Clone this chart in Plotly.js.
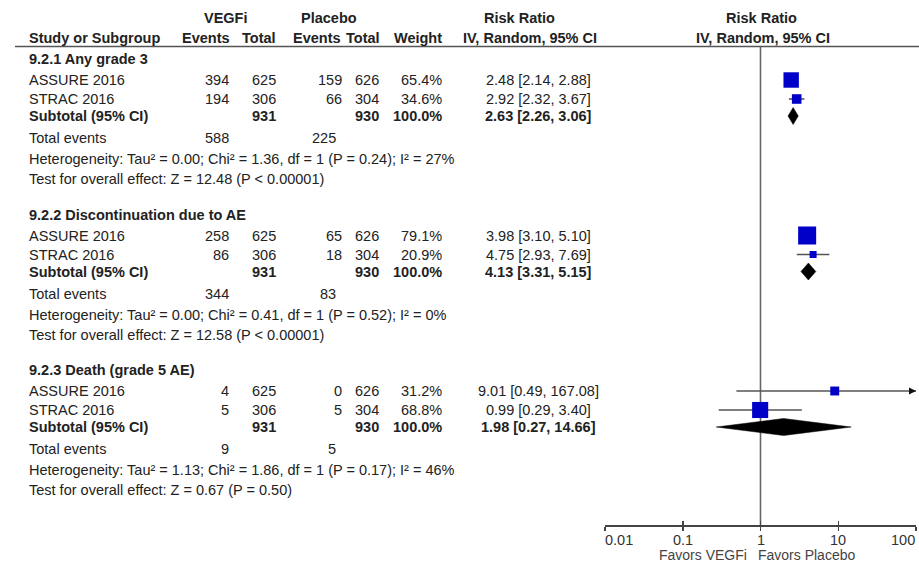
<!DOCTYPE html>
<html>
<head>
<meta charset="utf-8">
<script src="https://cdn.plot.ly/plotly-3.0.1.min.js"></script>
<style>html,body{margin:0;padding:0;background:#fff;}#chart{width:919px;height:563px;}</style>
</head>
<body>
<div id="chart"></div>
<script>
// ---------- data ----------
const groupNames = ['9.2.1 Any grade 3', '9.2.2 Discontinuation due to AE', '9.2.3 Death (grade 5 AE)'];
const studyGroup = [0, 0, 1, 1, 2, 2];
const studyNames = ['ASSURE 2016', 'STRAC 2016', 'ASSURE 2016', 'STRAC 2016', 'ASSURE 2016', 'STRAC 2016'];
const vegfEvents = [394, 194, 258, 86, 4, 5];
const vegfTotal = [625, 306, 625, 306, 625, 306];
const placEvents = [159, 66, 65, 18, 0, 5];
const placTotal = [626, 304, 626, 304, 626, 304];
const weights = [65.4, 34.6, 79.1, 20.9, 31.2, 68.8];
const rr = [2.48, 2.92, 3.98, 4.75, 9.01, 0.99];
const rrLo = [2.14, 2.32, 3.10, 2.93, 0.49, 0.29];
const rrHi = [2.88, 3.67, 5.10, 7.69, 167.08, 3.40];

const subVegfTotal = [931, 931, 931];
const subPlacTotal = [930, 930, 930];
const subWeight = [100.0, 100.0, 100.0];
const subRR = [2.63, 4.13, 1.98];
const subLo = [2.26, 3.31, 0.27];
const subHi = [3.06, 5.15, 14.66];
const totVegfEvents = [588, 344, 9];
const totPlacEvents = [225, 83, 5];

const hetTau2 = ['0.00', '0.00', '1.13'];
const hetChi2 = ['1.36', '0.41', '1.86'];
const hetDf = [1, 1, 1];
const hetP = ['0.24', '0.52', '0.17'];
const hetI2 = [27, 0, 46];
const zVal = ['12.48', '12.58', '0.67'];
const zP = ['P < 0.00001', 'P < 0.00001', 'P = 0.50'];

const tickVals = [0.01, 0.1, 1, 10, 100];
const tickText = ['0.01', '0.1', '1', '10', '100'];

// ---------- layout constants ----------
const W = 919, H = 563;
const axisY = 525;           // pixel row of x axis
const headerLineY = 46.5;
const groupStart = [59, 214.5, 370];
const offStudy = [21, 40];
const offSub = 57, offTot = 79, offHet = 100, offTest = 120;
const xRange = [-2, 2];
const FONT = 'Liberation Sans, Arial, sans-serif';
const TXT = '#222';
const FS = 14.5;

const colX = {name: 27, vEv: 231, vTot: 278, pEv: 344, pTot: 381, wt: 444, est: 538, pEvTot: 338};

function px(x) { return x / W; }
const annotations = [];
function ann(text, x, y, anchor, bold, size, color) {
  annotations.push({
    text: bold ? '<b>' + text + '</b>' : text,
    x: px(x), xref: 'paper', y: y, yref: 'y',
    xanchor: anchor, yanchor: 'middle', showarrow: false,
    font: {family: FONT, size: size || FS, color: color || TXT}
  });
}
function f2(v) { return v.toFixed(2); }
function ci(m, l, h) { return f2(m) + ' [' + f2(l) + ', ' + f2(h) + ']'; }

// header
ann('VEGFi', 226, 18, 'center', true);
ann('Placebo', 329, 18, 'center', true);
ann('Risk Ratio', 519, 18, 'center', true);
ann('Risk Ratio', 761, 18, 'center', true);
ann('Study or Subgroup', colX.name, 38, 'left', true);
ann('Events', colX.vEv + 1, 38, 'right', true);
ann('Total', colX.vTot, 38, 'right', true);
ann('Events', colX.pEv - 1, 38, 'right', true);
ann('Total', colX.pTot + 1, 38, 'right', true);
ann('Weight', colX.wt, 38, 'right', true);
ann('IV, Random, 95% CI', 530, 38, 'center', true);
ann('IV, Random, 95% CI', 763, 38, 'center', true);

const studyY = [];
for (let i = 0; i < studyNames.length; i++) {
  const g = studyGroup[i];
  const k = studyGroup.slice(0, i).filter(v => v === g).length;
  studyY.push(groupStart[g] + offStudy[k]);
}

for (let g = 0; g < groupNames.length; g++) {
  const y0 = groupStart[g];
  ann(groupNames[g], colX.name, y0, 'left', true);
  const ys = y0 + offSub;
  ann('Subtotal (95% CI)', colX.name, ys, 'left', true);
  ann(String(subVegfTotal[g]), colX.vTot, ys, 'right', true);
  ann(String(subPlacTotal[g]), colX.pTot, ys, 'right', true);
  ann(subWeight[g].toFixed(1) + '%', colX.wt, ys, 'right', true);
  ann(ci(subRR[g], subLo[g], subHi[g]), colX.est, ys, 'center', true);
  const yt = y0 + offTot;
  ann('Total events', colX.name, yt, 'left', false);
  ann(String(totVegfEvents[g]), colX.vEv, yt, 'right', false);
  ann(String(totPlacEvents[g]), colX.pEvTot, yt, 'right', false);
  ann('Heterogeneity: Tau² = ' + hetTau2[g] + '; Chi² = ' + hetChi2[g] + ', df = ' + hetDf[g] +
      ' (P = ' + hetP[g] + '); I² = ' + hetI2[g] + '%', colX.name, y0 + offHet, 'left', false);
  ann('Test for overall effect: Z = ' + zVal[g] + ' (' + zP[g] + ')', colX.name, y0 + offTest, 'left', false);
}

for (let i = 0; i < studyNames.length; i++) {
  const y = studyY[i];
  ann(studyNames[i], colX.name, y, 'left', false);
  ann(String(vegfEvents[i]), colX.vEv, y, 'right', false);
  ann(String(vegfTotal[i]), colX.vTot, y, 'right', false);
  ann(String(placEvents[i]), colX.pEv, y, 'right', false);
  ann(String(placTotal[i]), colX.pTot, y, 'right', false);
  ann(weights[i].toFixed(1) + '%', colX.wt, y, 'right', false);
  ann(ci(rr[i], rrLo[i], rrHi[i]), colX.est, y, 'center', false);
}

// tick labels (edge labels aligned inward, like the original)
for (let i = 0; i < tickVals.length; i++) {
  const anchor = i === 0 ? 'left' : (i === tickVals.length - 1 ? 'right' : 'center');
  annotations.push({text: tickText[i], x: Math.log10(tickVals[i]), xref: 'x', xanchor: anchor,
    xshift: i === 0 ? -2 : (i === tickVals.length - 1 ? 1 : 0),
    y: (H - 540) / H, yref: 'paper', yanchor: 'middle', showarrow: false,
    font: {family: FONT, size: 14.5, color: '#333'}});
}

// favors labels below axis (annotation x on a log axis is given in log10 units)
const nullX = Math.log10(1);
annotations.push({text: 'Favors VEGFi', x: nullX, xref: 'x', xanchor: 'right', xshift: -12,
  y: (H - 555) / H, yref: 'paper', yanchor: 'middle', showarrow: false,
  font: {family: FONT, size: 14, color: '#444'}});
annotations.push({text: 'Favors Placebo', x: nullX, xref: 'x', xanchor: 'left', xshift: -5,
  y: (H - 555) / H, yref: 'paper', yanchor: 'middle', showarrow: false,
  font: {family: FONT, size: 14, color: '#444'}});

// ---------- traces ----------
const ciX = [], ciY = [];
const arrowX = [], arrowY = [];
const xMax = Math.pow(10, xRange[1]);
for (let i = 0; i < rr.length; i++) {
  ciX.push(rrLo[i], rrHi[i], null);
  ciY.push(studyY[i], studyY[i], null);
  if (rrHi[i] > xMax) { arrowX.push(xMax); arrowY.push(studyY[i]); }
}
const traces = [];
traces.push({type: 'scatter', mode: 'lines', x: ciX, y: ciY, xaxis: 'x', yaxis: 'y',
  line: {color: '#555', width: 1.6}, hoverinfo: 'skip', showlegend: false});
traces.push({type: 'scatter', mode: 'markers', x: arrowX, y: arrowY, cliponaxis: false,
  marker: {symbol: 'arrow-right', size: 7, color: '#111', opacity: 1}, hoverinfo: 'skip', showlegend: false});
traces.push({type: 'scatter', mode: 'markers', x: rr, y: studyY, cliponaxis: false,
  marker: {symbol: 'square', color: '#0000C8', opacity: 1, size: weights.map(w => 3 + w * 0.19), line: {width: 0}},
  showlegend: false});

const dh = 8.5;
for (let g = 0; g < subRR.length; g++) {
  const y = groupStart[g] + offSub;
  traces.push({type: 'scatter', mode: 'lines', fill: 'toself', fillcolor: '#000',
    x: [subLo[g], subRR[g], subHi[g], subRR[g], subLo[g]],
    y: [y, y - dh, y, y + dh, y], line: {color: '#000', width: 0.5},
    hoverinfo: 'skip', showlegend: false});
}
// overlay axis for inside half of ticks
traces.push({type: 'scatter', mode: 'markers', x: [1], y: [axisY], xaxis: 'x2', yaxis: 'y',
  marker: {opacity: 0}, hoverinfo: 'skip', showlegend: false});

const xDomain = [px(605), px(916)];
const layout = {
  width: W, height: H,
  margin: {l: 0, r: 0, t: 0, b: 0, pad: 0},
  paper_bgcolor: '#fff', plot_bgcolor: 'rgba(0,0,0,0)',
  showlegend: false,
  xaxis: {type: 'log', range: xRange, domain: xDomain, anchor: 'y',
    tickvals: tickVals, ticktext: tickText, ticks: 'outside', ticklen: 4, tickwidth: 1.5,
    tickcolor: '#444', showline: true, linecolor: '#444', linewidth: 1.5,
    showticklabels: false, showgrid: false, zeroline: false},
  xaxis2: {type: 'log', range: xRange, domain: xDomain, anchor: 'y', overlaying: 'x',
    tickvals: tickVals, ticks: 'inside', ticklen: 4, tickwidth: 1.5, tickcolor: '#444',
    showticklabels: false, showgrid: false, zeroline: false, showline: false},
  yaxis: {range: [axisY, 0], domain: [(H - axisY) / H, 1], visible: false, showgrid: false, zeroline: false},
  shapes: [
    {type: 'line', xref: 'paper', yref: 'y', x0: px(15), x1: 1, y0: headerLineY, y1: headerLineY,
     line: {color: '#555', width: 1.6}},
    {type: 'line', xref: 'x', yref: 'y', x0: 1, x1: 1, y0: headerLineY, y1: axisY,
     line: {color: '#666', width: 1.6}, layer: 'below'}
  ],
  annotations: annotations
};

Plotly.newPlot('chart', traces, layout, {displayModeBar: false, staticPlot: true});
</script>
</body>
</html>
